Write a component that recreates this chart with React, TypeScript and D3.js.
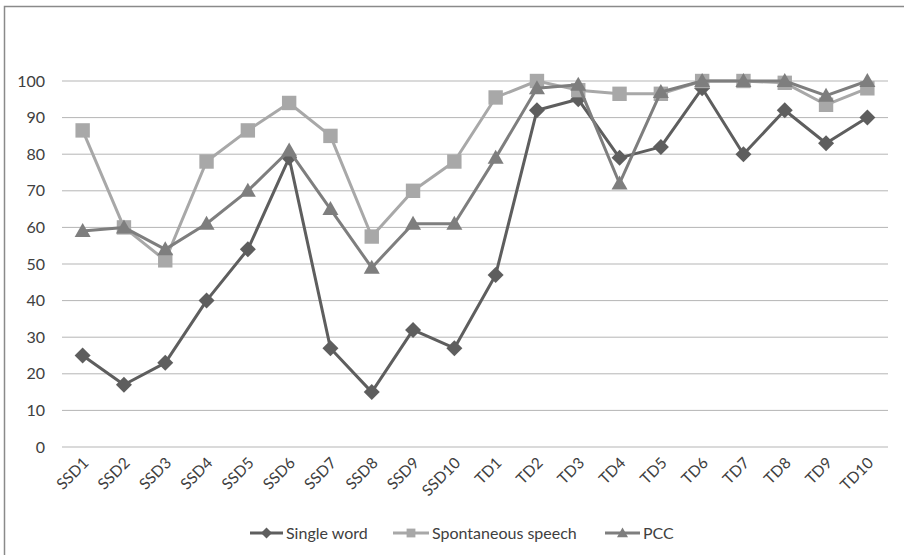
import React from "react";
import * as d3 from "d3";

const categories = ["SSD1","SSD2","SSD3","SSD4","SSD5","SSD6","SSD7","SSD8","SSD9","SSD10","TD1","TD2","TD3","TD4","TD5","TD6","TD7","TD8","TD9","TD10"];
const singleWord = [25,17,23,40,54,79,27,15,32,27,47,92,95,79,82,98,80,92,83,90];
const spontaneous = [86.5,60,51,78,86.5,94,85,57.5,70,78,95.5,100,97.5,96.5,96.5,100,100,99.5,93.5,98];
const pcc = [59,60,54,61,70,81,65,49,61,61,79,98,99,72,97,100,100,100,96,100];
const yTicks = [0,10,20,30,40,50,60,70,80,90,100];

const W = 904, H = 555;
const FONT = "Lato, 'Open Sans', sans-serif";

type Series = { name: string; values: number[]; color: string; marker: "diamond" | "square" | "triangle" };
const series: Series[] = [
  { name: "Single word", values: singleWord, color: "#5e5e5e", marker: "diamond" },
  { name: "Spontaneous speech", values: spontaneous, color: "#a8a8a8", marker: "square" },
  { name: "PCC", values: pcc, color: "#7e7e7e", marker: "triangle" },
];

function markerPath(kind: string, s: number) {
  if (kind === "diamond") return `M0,${-s}L${s},0L0,${s}L${-s},0Z`;
  if (kind === "square") return `M${-s * 0.8},${-s * 0.8}H${s * 0.8}V${s * 0.8}H${-s * 0.8}Z`;
  return `M0,${-s}L${s},${s * 0.75}L${-s},${s * 0.75}Z`;
}

export default function App() {
  const x = d3.scaleBand<string>().domain(categories).range([62, 888]);
  const y = d3.scaleLinear().domain([0, 100]).range([447, 81]);
  const cx = (c: string) => (x(c) as number) + x.bandwidth() / 2;
  const line = d3.line<number>().x((_, i) => cx(categories[i])).y((v) => y(v));

  const legendItems = [
    { s: series[0], lx: 250, tx: 286 },
    { s: series[1], lx: 393, tx: 432 },
    { s: series[2], lx: 605, tx: 643 },
  ];

  return (
    <svg width={W} height={H} style={{ position: "absolute", left: 0, top: 0, background: "#fff" }}>
      <rect x={0} y={0} width={W} height={H} fill="#fff" />
      <path d={`M4.5,${H}V6.5H${W}`} fill="none" stroke="#8a8a8a" strokeWidth={1.5} />
      {yTicks.map((t) => (
        <g key={t}>
          <line x1={62} x2={888} y1={y(t)} y2={y(t)} stroke="#b5b5b5" strokeWidth={1} />
          <text x={45} y={y(t)} dy="0.35em" textAnchor="end" fontFamily={FONT} fontSize={16} fill="#404040">{t}</text>
        </g>
      ))}
      {categories.map((c) => (
        <text key={c} transform={`translate(${cx(c) + 7},${464}) rotate(-45)`} textAnchor="end" fontFamily={FONT} fontSize={15.5} fill="#404040">{c}</text>
      ))}
      {series.map((s) => (
        <g key={s.name}>
          <path d={line(s.values) || ""} fill="none" stroke={s.color} strokeWidth={3} strokeLinejoin="round" />
          {s.values.map((v, i) => (
            <path key={i} d={markerPath(s.marker, s.marker === "square" ? 9 : 8)} transform={`translate(${cx(categories[i])},${y(v)})`} fill={s.color} />
          ))}
        </g>
      ))}
      {legendItems.map(({ s, lx, tx }) => (
        <g key={s.name}>
          <line x1={lx} x2={tx - 3} y1={533} y2={533} stroke={s.color} strokeWidth={3} />
          <path d={markerPath(s.marker, 5.5)} transform={`translate(${(lx + tx - 3) / 2},533)`} fill={s.color} />
          <text x={tx} y={533} dy="0.35em" fontFamily={FONT} fontSize={16} fill="#404040">{s.name}</text>
        </g>
      ))}
    </svg>
  );
}
